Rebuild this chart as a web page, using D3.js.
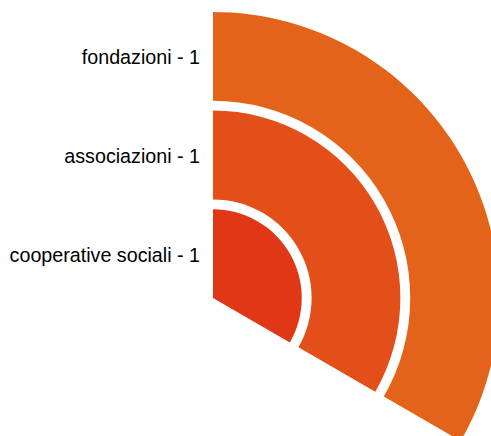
<!DOCTYPE html>
<html>
<head>
<meta charset="utf-8">
<script src="https://cdn.jsdelivr.net/npm/d3@7"></script>
<style>
  html, body { margin: 0; padding: 0; background: #fff; }
  svg { display: block; }
</style>
</head>
<body>
<svg id="chart" width="491" height="436"></svg>
<script>
// Categories from innermost ring to outermost ring
const categories = ["cooperative sociali", "associazioni", "fondazioni"];
const values = [1, 1, 1];
const colors = ["#e03816", "#e24f19", "#e4631a"];
// Full circle corresponds to this total
const angleMax = 3;

const width = 491, height = 436;
const cx = 213, cy = 298;
const outerR = 286;

const svg = d3.select("#chart");
const g = svg.append("g").attr("transform", `translate(${cx},${cy})`);

const r = d3.scaleBand()
  .domain(categories)
  .range([0, outerR])
  .paddingInner(0.1);

const a = d3.scaleLinear()
  .domain([0, angleMax])
  .range([0, 2 * Math.PI]);

const arc = d3.arc()
  .innerRadius(d => r(d.cat))
  .outerRadius(d => r(d.cat) + r.bandwidth())
  .startAngle(0)
  .endAngle(d => a(d.value));

const rows = categories.map((cat, i) => ({ cat, value: values[i], color: colors[i] }));

g.selectAll("path.bar")
  .data(rows)
  .join("path")
  .attr("class", "bar")
  .attr("d", arc)
  .attr("fill", d => d.color);

g.selectAll("text.lbl")
  .data(rows)
  .join("text")
  .attr("class", "lbl")
  .attr("x", -13)
  .attr("y", d => -(r(d.cat) + r.bandwidth() / 2))
  .attr("dy", "0.4em")
  .attr("text-anchor", "end")
  .style("font-family", "'Liberation Sans', Arial, sans-serif")
  .attr("font-size", 19.7)
  .attr("fill", "#000")
  .text(d => `${d.cat} - ${d.value}`);
</script>
</body>
</html>
